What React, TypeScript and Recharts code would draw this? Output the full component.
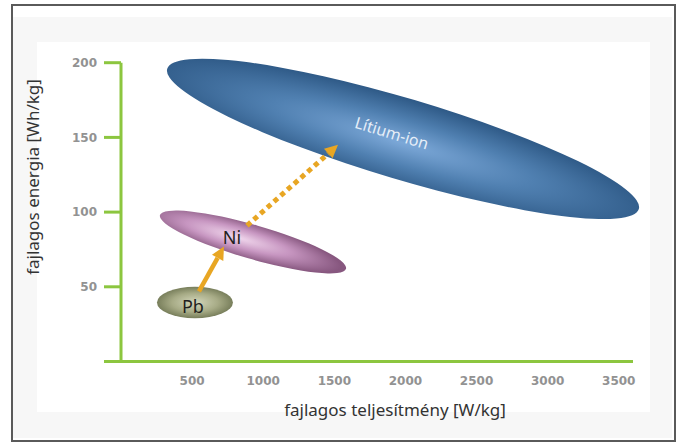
import { ScatterChart, Scatter, XAxis, YAxis, Label } from 'recharts'

// axis ticks
const xTicks = [500, 1000, 1500, 2000, 2500, 3000, 3500]
const yTicks = [0, 50, 100, 150, 200]

// each battery area: left tip of the long axis, centre, a point on the upper edge (W/kg, Wh/kg)
const liIon = [
  { power: 325, energy: 196 },
  { power: 1983, energy: 149 },
  { power: 2063, energy: 175 },
]
const nickel = [
  { power: 274, energy: 98 },
  { power: 928, energy: 80 },
  { power: 959, energy: 91 },
]
const lead = [
  { power: 253, energy: 39.5 },
  { power: 520, energy: 39.5 },
  { power: 520, energy: 50 },
]

// arrows: start, end
const leadToNickel = [
  { power: 548, energy: 47 },
  { power: 724, energy: 77 },
]
const nickelToLiIon = [
  { power: 886, energy: 91 },
  { power: 1526, energy: 145 },
]

const labels = [
  { power: 1905, energy: 153, text: 'Lítium-ion' },
  { power: 780, energy: 83, text: 'Ni' },
  { power: 506, energy: 37, text: 'Pb' },
]

const green = '#8cc63f'
const orange = '#e8a623'
const titleFont = '"Noto Sans", "Open Sans", sans-serif'
const tickStyle = { fill: '#929292', fontSize: 12, fontWeight: 'bold', fontFamily: 'DejaVu Sans' }

const labelStyle: Record<string, { fill: string; size: number; rotate: number }> = {
  'Lítium-ion': { fill: '#e6eef8', size: 16, rotate: 17 },
  Ni: { fill: '#231f20', size: 18, rotate: 0 },
  Pb: { fill: '#231f20', size: 18, rotate: 0 },
}

type Stop = [string, string]

const ellipseLine = (id: string, stops: Stop[], fx = '50%', fy = '50%') => (props: any) => {
  const pts = props.points
  if (!pts || pts.length < 3) return <g />
  const [tip, c, edge] = pts
  const rx = Math.hypot(c.x - tip.x, c.y - tip.y)
  const ang = Math.atan2(c.y - tip.y, c.x - tip.x)
  const ry = Math.abs(-(edge.x - c.x) * Math.sin(ang) + (edge.y - c.y) * Math.cos(ang))
  const deg = (ang * 180) / Math.PI
  return (
    <g>
      <defs>
        <radialGradient id={id} cx={fx} cy={fy} r="55%">
          {stops.map(([off, col]) => (
            <stop key={off} offset={off} stopColor={col} />
          ))}
        </radialGradient>
      </defs>
      <ellipse
        cx={c.x}
        cy={c.y}
        rx={rx}
        ry={ry}
        transform={`rotate(${deg} ${c.x} ${c.y})`}
        fill={`url(#${id})`}
      />
    </g>
  )
}

const arrowLine = (dotted: boolean) => (props: any) => {
  const pts = props.points
  if (!pts || pts.length < 2) return <g />
  const [s, t] = pts
  const ang = Math.atan2(t.y - s.y, t.x - s.x)
  const headLen = 13
  const half = 6.5
  const bx = t.x - headLen * Math.cos(ang)
  const by = t.y - headLen * Math.sin(ang)
  const nx = -Math.sin(ang) * half
  const ny = Math.cos(ang) * half
  return (
    <g>
      <line
        x1={s.x}
        y1={s.y}
        x2={bx}
        y2={by}
        stroke={orange}
        strokeWidth={dotted ? 5 : 4.5}
        strokeDasharray={dotted ? '5 4' : undefined}
      />
      <polygon points={`${t.x},${t.y} ${bx + nx},${by + ny} ${bx - nx},${by - ny}`} fill={orange} />
    </g>
  )
}

const noDot = () => <g />

const labelShape = (props: any) => {
  const st = labelStyle[props.payload.text]
  return (
    <text
      x={props.cx}
      y={props.cy}
      textAnchor="middle"
      dominantBaseline="central"
      fontFamily={titleFont}
      fontSize={st.size}
      fill={st.fill}
      transform={`rotate(${st.rotate} ${props.cx} ${props.cy})`}
    >
      {props.payload.text}
    </text>
  )
}

export default function App() {
  return (
    <div style={{ position: 'absolute', left: 0, top: 0, width: 681, height: 442, background: '#fff' }}>
      <div
        style={{
          position: 'absolute',
          left: 11,
          top: 4,
          width: 661,
          height: 434,
          border: '2px solid #5a5a5a',
          background: '#fff',
        }}
      />
      <div style={{ position: 'absolute', left: 13, top: 17, width: 659, height: 421, background: '#f7f7f7' }} />
      <div style={{ position: 'absolute', left: 37, top: 42, width: 613, height: 370, background: '#fff' }} />
      <div style={{ position: 'absolute', left: 0, top: 0 }}>
        <ScatterChart width={681} height={442} margin={{ top: 62.7, right: 48, bottom: 30.5, left: 61 }}>
          <XAxis
            type="number"
            dataKey="power"
            domain={[0, 3600]}
            ticks={xTicks}
            interval={0}
            height={50}
            axisLine={{ stroke: green, strokeWidth: 3 }}
            tickLine={false}
            tickMargin={9}
            tick={tickStyle}
          >
            <Label
              content={({ viewBox }: any) => (
                <text
                  x={viewBox.x + viewBox.width / 2 + 18}
                  y={416}
                  textAnchor="middle"
                  fontFamily={titleFont}
                  fontSize={17}
                  fill="#333"
                >
                  fajlagos teljesítmény [W/kg]
                </text>
              )}
            />
          </XAxis>
          <YAxis
            type="number"
            dataKey="energy"
            domain={[0, 200]}
            ticks={yTicks}
            interval={0}
            width={60}
            tickSize={17}
            tickMargin={7}
            axisLine={{ stroke: green, strokeWidth: 3 }}
            tickLine={{ stroke: green, strokeWidth: 3 }}
            tickFormatter={(v: number) => (v === 0 ? '' : String(v))}
            tick={tickStyle}
          >
            <Label
              content={() => (
                <text
                  x={39}
                  y={177}
                  textAnchor="middle"
                  transform="rotate(-90 39 177)"
                  fontFamily={titleFont}
                  fontSize={17}
                  fill="#333"
                >
                  fajlagos energia [Wh/kg]
                </text>
              )}
            />
          </YAxis>
          <Scatter
            data={lead}
            isAnimationActive={false}
            shape={noDot}
            line={ellipseLine('gPb', [
              ['0%', '#d4d7bb'],
              ['55%', '#a7ab86'],
              ['100%', '#6c7350'],
            ])}
          />
          <Scatter
            data={nickel}
            isAnimationActive={false}
            shape={noDot}
            line={ellipseLine(
              'gNi',
              [
                ['0%', '#f0d6ec'],
                ['50%', '#c796c1'],
                ['100%', '#87577f'],
              ],
              '42%',
              '50%'
            )}
          />
          <Scatter
            data={liIon}
            isAnimationActive={false}
            shape={noDot}
            line={ellipseLine(
              'gLi',
              [
                ['0%', '#7ca8d8'],
                ['50%', '#5080b1'],
                ['100%', '#2e5986'],
              ],
              '50%',
              '55%'
            )}
          />
          <Scatter data={leadToNickel} isAnimationActive={false} shape={noDot} line={arrowLine(false)} />
          <Scatter data={nickelToLiIon} isAnimationActive={false} shape={noDot} line={arrowLine(true)} />
          <Scatter data={labels} isAnimationActive={false} shape={labelShape} />
        </ScatterChart>
      </div>
    </div>
  )
}
